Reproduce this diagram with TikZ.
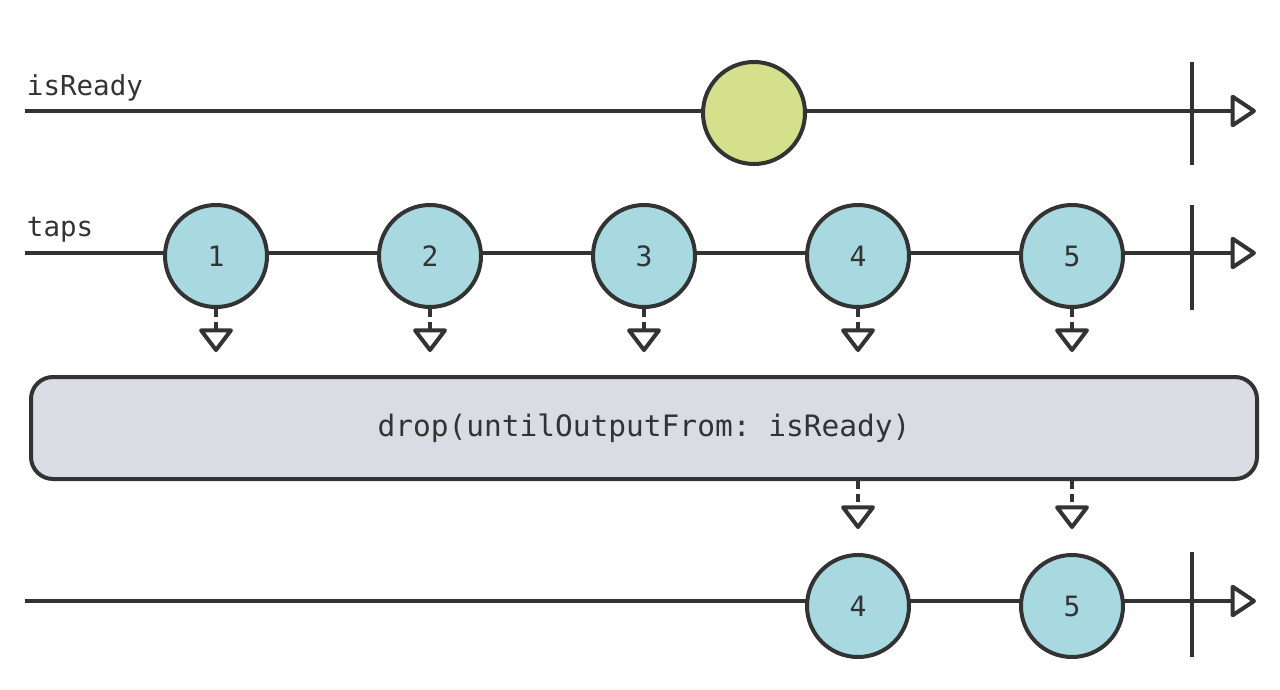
\documentclass[tikz,border=0pt]{standalone}
\usepackage{fontspec}
\setmonofont{DejaVu Sans Mono}
\usetikzlibrary{arrows.meta}
\definecolor{ink}{HTML}{333333}
\definecolor{readyfill}{HTML}{D4E08C}
\definecolor{tapfill}{HTML}{A8D8E0}
\definecolor{opfill}{HTML}{D9DCE3}

\begin{document}
\begin{tikzpicture}[x=1pt,y=-1pt,line width=4pt,
  timeline/.style={draw=ink,-{Triangle[open,length=27pt,width=35pt,round]}},
  endbar/.style={draw=ink},
  flow/.style={draw=ink,dash pattern=on 8pt off 5pt,-{Triangle[open,length=25pt,width=37pt,round]}},
  marble/.style={circle,draw=ink,fill=tapfill,minimum size=102pt,inner sep=0pt,
    text=ink,font=\ttfamily\fontsize{28}{28}\selectfont},
  streamlabel/.style={anchor=base west,inner sep=0pt,text=ink,font=\ttfamily\fontsize{27.5}{27.5}\selectfont},
  opbox/.style={rectangle,rounded corners=22pt,draw=ink,fill=opfill,minimum width=1226pt,
    minimum height=102pt,text=ink,font=\ttfamily\fontsize{29.5}{29.5}\selectfont}]
  \useasboundingbox (0,0) rectangle (1280,690);

  % isReady
  \coordinate (a0) at (25,111);
  \coordinate (a1) at (1256,111);
  \draw[timeline] (a0) -- (a1);
  \draw[endbar] (1192,62) -- (1192,165);
  \node[streamlabel] (lready) at (25,96) {isReady};
  \node[marble,fill=readyfill] (r) at (754,113) {};

  % taps
  \coordinate (b0) at (25,253);
  \coordinate (b1) at (1256,253);
  \draw[timeline] (b0) -- (b1);
  \draw[endbar] (1192,205) -- (1192,310);
  \node[streamlabel] (ltaps) at (25,236) {taps};
  \foreach \i/\x in {1/216,2/430,3/644,4/858,5/1072}
    \node[marble] (t\i) at (\x,256) {\i};

  % operator
  \node[opbox] (op) at (644,428) {\raisebox{-2pt}{drop(untilOutputFrom: isReady)}};
  \foreach \i in {1,...,5}
    \draw[flow,shorten >=23pt] (t\i.south) -- (t\i |- op.north);

  % result
  \coordinate (c0) at (25,601);
  \coordinate (c1) at (1256,601);
  \draw[timeline] (c0) -- (c1);
  \draw[endbar] (1192,552) -- (1192,657);
  \node[marble] (o4) at (858,606) {4};
  \node[marble] (o5) at (1072,606) {5};
  \foreach \i in {4,5}
    \draw[flow,shorten >=24pt] (t\i |- op.south) -- (o\i.north);
\end{tikzpicture}
\end{document}
